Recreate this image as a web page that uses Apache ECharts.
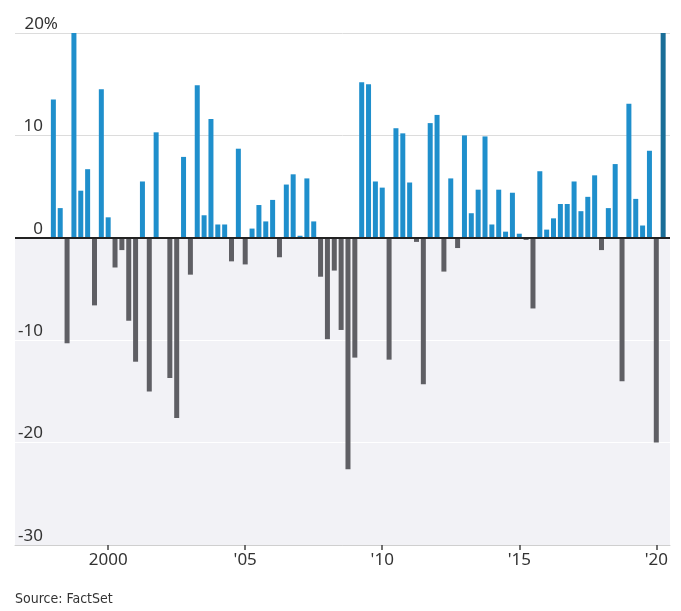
<!DOCTYPE html>
<html>
<head>
<meta charset="utf-8">
<script src="https://cdn.jsdelivr.net/npm/echarts@6/dist/echarts.min.js"></script>
<style>html,body{margin:0;padding:0;background:#fff;}#c{width:681px;height:611px;}</style>
</head>
<body>
<div id="c"></div>
<script>
// Quarterly returns, %
const years = [1998,1999,2000,2001,2002,2003,2004,2005,2006,2007,2008,2009,2010,2011,2012,2013,2014,2015,2016,2017,2018,2019,2020];
const quarterlyReturns = [
  [13.5, 2.9, -10.3, 21.3],
  [4.6, 6.7, -6.6, 14.5],
  [2.0, -2.9, -1.2, -8.1],
  [-12.1, 5.5, -15.0, 10.3],
  [-0.1, -13.7, -17.6, 7.9],
  [-3.6, 14.9, 2.2, 11.6],
  [1.3, 1.3, -2.3, 8.7],
  [-2.6, 0.9, 3.2, 1.6],
  [3.7, -1.9, 5.2, 6.2],
  [0.2, 5.8, 1.6, -3.8],
  [-9.9, -3.2, -9.0, -22.6],
  [-11.7, 15.2, 15.0, 5.5],
  [4.9, -11.9, 10.7, 10.2],
  [5.4, -0.4, -14.3, 11.2],
  [12.0, -3.3, 5.8, -1.0],
  [10.0, 2.4, 4.7, 9.9],
  [1.3, 4.7, 0.6, 4.4],
  [0.4, -0.2, -6.9, 6.5],
  [0.8, 1.9, 3.3, 3.3],
  [5.5, 2.6, 4.0, 6.1],
  [-1.2, 2.9, 7.2, -14.0],
  [13.1, 3.8, 1.2, 8.5],
  [-20.0, 20.0]
];
const xTickValues = [2000, 2005, 2010, 2015, 2020];
const xTickLabels = ['2000', "'05", "'10", "'15", "'20"];
const yTickLabels = {'20': '20%', '10': '10', '0': '0', '-10': '-10', '-20': '-20', '-30': '-30'};

const POS = '#1f8fcc', NEG = '#5f5f64', LAST = '#1a6e98';
const points = [];
years.forEach((y, i) => {
  quarterlyReturns[i].forEach((v, q) => points.push([y + q * 0.25, v]));
});
const data = points.map((p, i) => ({
  value: p,
  itemStyle: { color: i === points.length - 1 ? LAST : (p[1] >= 0 ? POS : NEG) }
}));

const FONT = "'Noto Sans', sans-serif";
const chart = echarts.init(document.getElementById('c'), null, { renderer: 'canvas' });
chart.setOption({
  animation: false,
  backgroundColor: '#fff',
  grid: { left: 15, right: 11, top: 33, bottom: 66, containLabel: false },
  xAxis: {
    type: 'value', min: 1996.6, max: 2020.5,
    axisLine: { show: true, onZero: false, lineStyle: { color: '#cfcfcf', width: 1 } },
    axisTick: { show: true, customValues: xTickValues, length: 5, lineStyle: { color: '#444', width: 1.5 } },
    axisLabel: {
      customValues: xTickValues,
      formatter: v => xTickLabels[xTickValues.indexOf(Math.round(v))] || '',
      color: '#333', fontFamily: FONT, fontSize: 17, margin: 7
    },
    splitLine: { show: false }
  },
  yAxis: {
    type: 'value', min: -30, max: 20, interval: 10,
    axisLine: { show: false }, axisTick: { show: false },
    axisLabel: {
      inside: false, align: 'left', verticalAlign: 'bottom', margin: -2,
      formatter: v => v === 20 ? '{w|' + yTickLabels[String(v)] + '}' : '{n|' + yTickLabels[String(v)] + '}',
      rich: {
        n: { width: 26, align: 'right', lineHeight: 18, fontFamily: FONT, fontSize: 17, color: '#333' },
        w: { width: 41, align: 'right', lineHeight: 18, fontFamily: FONT, fontSize: 17, color: '#333' }
      }
    },
    splitLine: { show: true, lineStyle: { color: ['#d0d0d0', '#ffffff', '#ffffff', '#222222', '#dcdcdc', '#dcdcdc'], width: 1 } },
    splitArea: { show: true, areaStyle: { color: ['#f2f2f6', '#f2f2f6', '#f2f2f6', '#ffffff', '#ffffff'] } }
  },
  series: [{
    type: 'bar', barWidth: 5, data: data,
    markLine: {
      silent: true, symbol: 'none', label: { show: false },
      lineStyle: { color: '#222', width: 2, type: 'solid' },
      data: [{ yAxis: 0 }]
    }
  }],
  graphic: [{
    type: 'text', left: 15, top: 592,
    style: { text: 'Source: FactSet', fill: '#333', font: "14px 'Liberation Sans Narrow', 'DejaVu Sans Condensed', sans-serif" }
  }]
});
</script>
</body>
</html>
